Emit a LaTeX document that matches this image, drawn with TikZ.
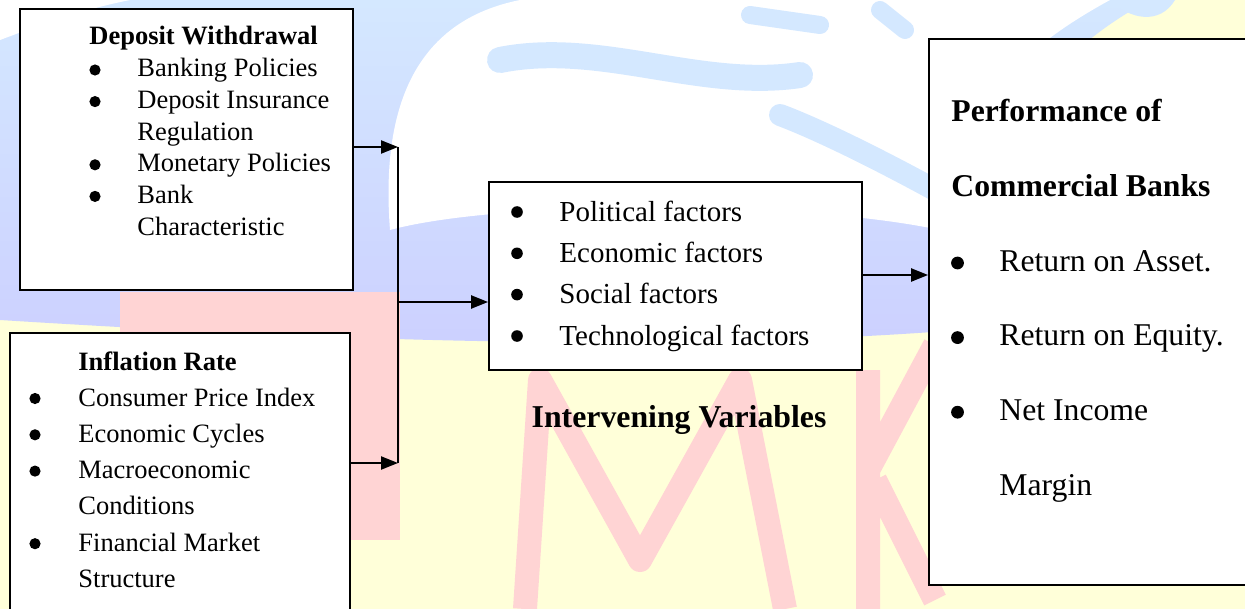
\documentclass[tikz,border=0pt]{standalone}
\usepackage{fontspec}
\setmainfont{Liberation Serif}
\usetikzlibrary{arrows.meta,fit}
\definecolor{bgyellow}{HTML}{FFFFD9}
\definecolor{bgblue}{HTML}{CCD0FF}
\definecolor{bgcyan}{HTML}{D4E8FF}
\definecolor{bgpink}{HTML}{FFD4D4}
\begin{document}
\begin{tikzpicture}[x=0.5pt,y=-0.5pt,
  box/.style={draw=black, line width=0.9pt, fill=white, inner sep=0pt},
  conn/.style={line width=1.1pt},
  arr/.style={conn, -{Triangle[length=8.5pt,width=6.5pt]}},
  lfont/.style={inner sep=0pt, font=\fontsize{13.25}{15}\selectfont},
  lbold/.style={inner sep=0pt, font=\fontsize{13.25}{15}\selectfont\bfseries},
  mfont/.style={inner sep=0pt, font=\fontsize{14.5}{16}\selectfont},
  rfont/.style={inner sep=0pt, font=\fontsize{15.85}{18}\selectfont},
  rbold/.style={inner sep=0pt, font=\fontsize{15.85}{18}\selectfont\bfseries},
  txt/.style={anchor=base west},
  dot/.style={circle, fill=black, draw=none, inner sep=0pt, minimum size=#1},
  lbul/.style={dot=5.6pt},
  mbul/.style={dot=5.8pt},
  rbul/.style={dot=6.4pt}
]
\useasboundingbox (0,0) rectangle (1245,609);
\clip (0,0) rectangle (1245,609);
% ---- background watermark ----
\fill[bgyellow] (0,0) rectangle (1245,609);
\shade[top color=bgcyan, bottom color=bgblue]
  (100,0) -- (1150,0) .. controls (1000,80) and (980,200) .. (960,330)
  .. controls (700,350) and (400,345) .. (0,320) -- (0,40)
  .. controls (40,20) and (80,5) .. (100,0) -- cycle;
\fill[white] (390,230) .. controls (380,100) and (420,20) .. (520,0) -- (1110,0)
  .. controls (1000,60) and (960,120) .. (940,230)
  .. controls (800,200) and (500,200) .. (390,230) -- cycle;
\fill[white] (0,0) -- (130,0) .. controls (80,10) and (40,25) .. (0,40) -- cycle;
\draw[bgcyan, line width=13pt, line cap=round] (500,60) .. controls (600,40) and (700,90) .. (800,75);
\draw[bgcyan, line width=11pt, line cap=round] (780,115) .. controls (820,130) and (880,160) .. (935,190);
\draw[bgcyan, line width=9pt, line cap=round] (750,15) -- (820,25);
\draw[bgcyan, line width=9pt, line cap=round] (880,10) -- (905,30);
\fill[bgcyan] (1110,0) .. controls (1130,20) and (1160,25) .. (1175,0) -- cycle;
\fill[bgpink] (120,292) rectangle (400,336);
\fill[bgpink] (350,292) rectangle (400,540);
\draw[bgpink, line width=12pt, line join=round] (525,609) -- (540,380) -- (640,560) -- (740,380) -- (785,609);
\draw[bgpink, line width=12pt] (868,370) -- (868,609) (868,470) -- (935,345) (875,480) -- (935,600);
% ---- boxes ----
\node[box, fit={(20,9) (353,290)}] (dw) {};
\node[box, fit={(10,333) (350,640)}] (ir) {};
\node[box, fit={(489,182) (862,370)}] (iv) {};
\node[box, fit={(929,39) (1260,585)}] (pc) {};
% ---- Deposit Withdrawal ----
\node[lbold, txt] (dwt) at (89,45) {Deposit Withdrawal};
\node[lbul] (dwb1) at (95,70) {};
\node[lfont, txt] (dw1) at (137,77) {Banking Policies};
\node[lbul] (dwb2) at (95,101.6) {};
\node[lfont, txt] (dw2) at (137,108.6) {Deposit Insurance};
\node[lfont, txt] (dw3) at (137,140.2) {Regulation};
\node[lbul] (dwb4) at (95,164.8) {};
\node[lfont, txt] (dw4) at (137,171.8) {Monetary Policies};
\node[lbul] (dwb5) at (95,196.4) {};
\node[lfont, txt] (dw5) at (137,203.4) {Bank};
\node[lfont, txt] (dw6) at (137,235) {Characteristic};
% ---- Inflation Rate ----
\node[lbold, txt] (irt) at (78,370) {Inflation Rate};
\node[lbul] (irb1) at (35,398.5) {};
\node[lfont, txt] (ir1) at (78,406) {Consumer Price Index};
\node[lbul] (irb2) at (35,434.8) {};
\node[lfont, txt] (ir2) at (78,442.3) {Economic Cycles};
\node[lbul] (irb3) at (35,471.1) {};
\node[lfont, txt] (ir3) at (78,478.6) {Macroeconomic};
\node[lfont, txt] (ir4) at (78,514.9) {Conditions};
\node[lbul] (irb5) at (35,543.7) {};
\node[lfont, txt] (ir5) at (78,551.2) {Financial Market};
\node[lfont, txt] (ir6) at (78,587.5) {Structure};
% ---- Intervening ----
\node[mbul] (ivb1) at (517,212) {};
\node[mfont, txt] (iv1) at (559,221) {Political factors};
\node[mbul] (ivb2) at (517,253.3) {};
\node[mfont, txt] (iv2) at (559,262.3) {Economic factors};
\node[mbul] (ivb3) at (517,294.6) {};
\node[mfont, txt] (iv3) at (559,303.6) {Social factors};
\node[mbul] (ivb4) at (517,336) {};
\node[mfont, txt] (iv4) at (559,345) {Technological factors};
\node[inner sep=0pt, anchor=base, font=\fontsize{15.9}{18}\selectfont\bfseries] (ivl) at (679,427) {Intervening Variables};
% ---- Performance ----
\node[rbold, txt] (pct1) at (951,122) {Performance of};
\node[rbold, txt] (pct2) at (951,196.6) {Commercial Banks};
\node[rbul] (pcb1) at (957.5,263) {};
\node[rfont, txt] (pc1) at (999,271.2) {Return on Asset.};
\node[rbul] (pcb2) at (957.5,337.6) {};
\node[rfont, txt] (pc2) at (999,345.8) {Return on Equity.};
\node[rbul] (pcb3) at (957.5,412.2) {};
\node[rfont, txt] (pc3) at (999,420.4) {Net Income};
\node[rfont, txt] (pc4) at (999,495) {Margin};
% ---- connectors ----
\coordinate (j1) at (398,147);
\coordinate (j2) at (398,463);
\coordinate (jm) at (398,302);
\coordinate (k) at (900,275);
\draw[conn] (j1) -- (j2);
\draw[arr] (dw.east |- j1) -- (j1);
\draw[arr] (ir.east |- j2) -- (j2);
\draw[arr] (jm) -- (iv.west |- jm);
\draw[arr] (iv.east |- k) -- (pc.west |- k);
\end{tikzpicture}
\end{document}
